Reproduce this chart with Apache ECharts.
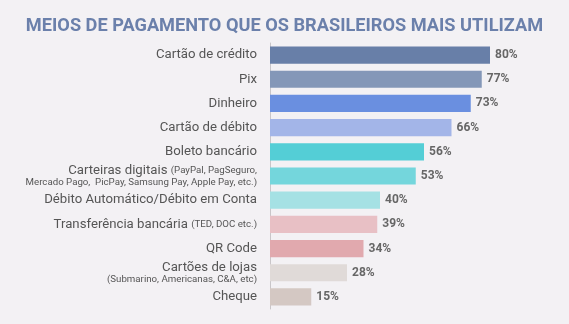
<!DOCTYPE html>
<html><head><meta charset="utf-8">
<script src="https://cdn.jsdelivr.net/npm/echarts@6/dist/echarts.min.js"></script>
<style>html,body{margin:0;padding:0;background:#f3f1f4;}#c{width:569px;height:324px;}</style>
</head><body><div id="c"></div>
<script>
const categories = ["Cartão de crédito","Pix","Dinheiro","Cartão de débito","Boleto bancário","Carteiras digitais","Débito Automático/Débito em Conta","Transferência bancária","QR Code","Cartões de lojas","Cheque"];
const notes = ["","","","","","(PayPal, PagSeguro,|Mercado Pago,  PicPay, Samsung Pay, Apple Pay, etc.)","","(TED, DOC etc.)","","|(Submarino, Americanas, C&A, etc)",""];
const values = [80,77,73,66,56,53,40,39,34,28,15];
const colors = ["#687fa8","#8497b8","#6a8fe0","#a3b5e8","#54ced6","#74d6dc","#a5e1e4","#e8c0c5","#e1a9ae","#e0dad8","#d4c8c3"];

function fmt(v, i) {
  const idx = categories.indexOf(v);
  const n = notes[idx] || "";
  if (!n) return "{a|" + v + "}";
  const parts = n.split("|");
  let s = "{a|" + v + "}";
  if (parts[0]) s += " {s|" + parts[0] + "}";
  if (parts[1]) s += "\n{s2|" + parts[1] + "}";
  return s;
}

const chart = echarts.init(document.getElementById('c'));
chart.setOption({
  backgroundColor: "#f3f1f4",
  title: {
    text: "MEIOS DE PAGAMENTO QUE OS BRASILEIROS MAIS UTILIZAM",
    left: "center", top: 12,
    textStyle: {fontFamily: "Roboto", fontSize: 18.2, fontWeight: "bold", color: "#6b80ab"}
  },
  grid: {left: 270, right: 24, top: 43, bottom: 15, containLabel: false},
  xAxis: {type: "value", min: 0, max: 100, show: false},
  yAxis: {
    type: "category", data: categories, inverse: true,
    axisLine: {show: true, lineStyle: {color: "#c9c6c9", width: 1}},
    axisTick: {show: false},
    axisLabel: {
      margin: 13, formatter: fmt, align: "right",
      rich: {
        a: {fontFamily: "Roboto", fontSize: 13.2, color: "#555555", lineHeight: 14},
        s: {fontFamily: "Roboto", fontSize: 9.7, color: "#555555", lineHeight: 14},
        s2: {fontFamily: "Roboto", fontSize: 9.7, color: "#555555", lineHeight: 11}
      }
    }
  },
  series: [{
    type: "bar", barCategoryGap: "29%",
    data: values.map((v, i) => ({value: v, itemStyle: {color: colors[i]}})),
    label: {show: true, position: "right", distance: 5, formatter: "{c}%",
      fontFamily: "Roboto", fontSize: 12, fontWeight: "bold", color: "#666666"}
  }]
});
</script></body></html>
